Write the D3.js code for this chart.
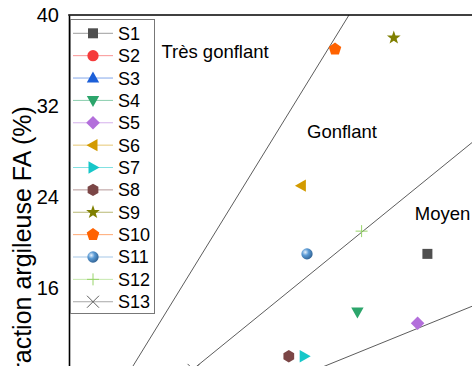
<!DOCTYPE html>
<html>
<head>
<meta charset="utf-8">
<script src="https://cdn.jsdelivr.net/npm/d3@7"></script>
<style>
  body { margin: 0; background: #fff; overflow: hidden; }
  svg { display: block; font-family: Arial, "Liberation Sans", sans-serif; }
</style>
</head>
<body>
<div id="chart"></div>
<script>
// series (one point each)
const seriesNames = ["S1", "S2", "S3", "S4", "S5", "S6", "S7", "S8", "S9", "S10", "S11", "S12", "S13"];
const xValues = [25.6, 12.0, 20.0, 20.6, 24.9, 16.6, 16.8, 15.7, 23.2, 19.0, 17.0, 20.9, 8.9];
const yValues = [19.0, 6.0, 7.0, 13.9, 12.9, 25.0, 10.0, 10.0, 38.0, 37.0, 19.0, 21.0, 8.8];

// boundary lines through the origin (FA = slope * x)
const boundarySlopes = [2, 1, 0.5];
const zoneNames = ["Très gonflant", "Gonflant", "Moyen"];
const zoneX = [6.6, 17.0, 24.7];
const zoneY = [36.2, 29.2, 22.0];

const yTicks = [16, 24, 32, 40];
const yLabel = "Fraction argileuse FA (%)";

// marker styles
const shapes = ["square", "circle", "up", "down", "diamond", "left", "right", "hexagon", "star", "pentagon", "sphere", "plus", "x"];
const colors = ["#4f4f4f", "#f53b3b", "#1c5fd8", "#2ca56b", "#b36fdb", "#d39b00", "#17c7c9",
                "#7b4646", "#7f7f00", "#ff6200", "#5b9bd5", "#98d46a", "#606060"];

const width = 472;
const height = 366;
const margin = { top: 15, left: 69 };

const svg = d3.select("#chart")
  .append("svg")
  .attr("width", width)
  .attr("height", height);

const defs = svg.append("defs");
const grad = defs.append("radialGradient")
  .attr("id", "sphere")
  .attr("cx", "35%").attr("cy", "35%").attr("r", "65%");
grad.append("stop").attr("offset", "0%").attr("stop-color", "#e8f2fc");
grad.append("stop").attr("offset", "45%").attr("stop-color", "#5b9bd5");
grad.append("stop").attr("offset", "100%").attr("stop-color", "#35689a");

// scales (plot continues past the bottom/right of the window)
const yScale = d3.scaleLinear().domain([0, 40]).range([470, margin.top]);
const xScale = d3.scaleLinear().domain([0, 40]).range([margin.left, margin.left + 560]);

function poly(n, r, start) {
  const pts = d3.range(n).map(i => {
    const a = start + i * 2 * Math.PI / n;
    return [r * Math.cos(a), r * Math.sin(a)];
  });
  return "M" + pts.map(p => p[0].toFixed(2) + "," + p[1].toFixed(2)).join("L") + "Z";
}

function star(ro, ri) {
  const pts = d3.range(10).map(i => {
    const a = -Math.PI / 2 + i * Math.PI / 5;
    const r = i % 2 ? ri : ro;
    return [r * Math.cos(a), r * Math.sin(a)];
  });
  return "M" + pts.map(p => p[0].toFixed(2) + "," + p[1].toFixed(2)).join("L") + "Z";
}

function markerPath(shape) {
  switch (shape) {
    case "square": return "M-5,-5H5V5H-5Z";
    case "circle":
    case "sphere": return d3.symbol(d3.symbolCircle, 100)();
    case "up": return "M0,-6.5L6.2,4.5L-6.2,4.5Z";
    case "down": return "M0,6.5L6.2,-4.5L-6.2,-4.5Z";
    case "left": return "M-6.5,0L4.5,-6.2L4.5,6.2Z";
    case "right": return "M6.5,0L-4.5,-6.2L-4.5,6.2Z";
    case "diamond": return "M0,-6.8L6.8,0L0,6.8L-6.8,0Z";
    case "hexagon": return poly(6, 6.2, -Math.PI / 2);
    case "pentagon": return poly(5, 6.6, -Math.PI / 2);
    case "star": return star(7.2, 2.9);
    case "plus": return "M-6,0H6M0,-6V6";
    case "x": return "M-6,-6L6,6M-6,6L6,-6";
  }
}

function drawMarker(g, i) {
  const s = shapes[i];
  const p = g.append("path").attr("d", markerPath(s));
  if (s === "plus" || s === "x") {
    p.attr("fill", "none").attr("stroke", colors[i]).attr("stroke-width", 1);
  } else if (s === "sphere") {
    p.attr("fill", "url(#sphere)");
  } else {
    p.attr("fill", colors[i]);
  }
}

// boundary lines
const xMax = xScale.domain()[1];
svg.append("g")
  .selectAll("line")
  .data(boundarySlopes)
  .enter()
  .append("line")
  .attr("x1", xScale(0))
  .attr("y1", yScale(0))
  .attr("x2", d => xScale(Math.min(xMax, 40 / d)))
  .attr("y2", d => yScale(Math.min(40, d * xMax)))
  .attr("stroke", "#4a4a4a")
  .attr("stroke-width", 0.9);

// zone labels
svg.append("g")
  .selectAll("text")
  .data(zoneNames)
  .enter()
  .append("text")
  .attr("x", (d, i) => xScale(zoneX[i]))
  .attr("y", (d, i) => yScale(zoneY[i]))
  .style("font-size", "18.5px")
  .attr("fill", "#000")
  .text(d => d);

// points
seriesNames.forEach((name, i) => {
  const g = svg.append("g")
    .attr("transform", `translate(${xScale(xValues[i])},${yScale(yValues[i])})`);
  drawMarker(g, i);
});

// frame: left axis + top border
svg.append("g")
  .attr("transform", `translate(${margin.left},0)`)
  .call(d3.axisLeft(yScale).tickValues(yTicks).tickSize(0).tickPadding(10))
  .call(g => g.select(".domain").attr("stroke", "#000").attr("stroke-width", 1.6))
  .selectAll("text")
  .style("font-size", "20px")
  .style("font-family", "Arial, 'Liberation Sans', sans-serif")
  .attr("fill", "#000");

svg.append("line")
  .attr("x1", margin.left - 0.8)
  .attr("x2", width)
  .attr("y1", margin.top)
  .attr("y2", margin.top)
  .attr("stroke", "#000")
  .attr("stroke-width", 1.6);

// y axis title (runs past the bottom edge, as in the source figure)
svg.append("text")
  .attr("transform", `translate(31, ${(yScale(0) + yScale(40)) / 2 + 4}) rotate(-90)`)
  .attr("text-anchor", "middle")
  .style("font-size", "25px")
  .text(yLabel);

// legend
const legend = svg.append("g");
legend.append("rect")
  .attr("x", 70.5)
  .attr("y", 19.5)
  .attr("width", 84)
  .attr("height", 294)
  .attr("fill", "#fff")
  .attr("stroke", "#777")
  .attr("stroke-width", 1);

seriesNames.forEach((name, i) => {
  const cy = 33.3 + i * 22.37;
  const row = legend.append("g").attr("transform", `translate(0,${cy})`);
  row.append("line")
    .attr("x1", 73).attr("x2", 113)
    .attr("y1", 0).attr("y2", 0)
    .attr("stroke", colors[i])
    .attr("stroke-opacity", 0.55)
    .attr("stroke-width", 1);
  const m = row.append("g").attr("transform", "translate(93,0)");
  drawMarker(m, i);
  row.append("text")
    .attr("x", 118)
    .attr("dy", "0.36em")
    .style("font-size", "18px")
    .text(name);
});
</script>
</body>
</html>
